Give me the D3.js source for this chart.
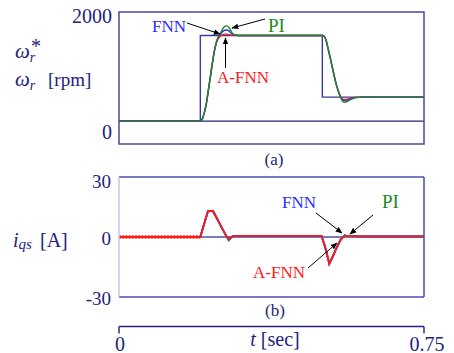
<!DOCTYPE html>
<html>
<head>
<meta charset="utf-8">
<script src="https://cdn.jsdelivr.net/npm/d3@7"></script>
<style>
  body { margin: 0; background: #fff; }
</style>
</head>
<body>
<div id="chart"></div>
<script>
// time samples (sec) for the speed plot
const tSpd = [0, 0.2, 0.205, 0.21, 0.215, 0.22, 0.225, 0.23, 0.235, 0.24, 0.245, 0.25, 0.255, 0.26, 0.265, 0.27, 0.275, 0.28, 0.29, 0.3,
              0.5, 0.505, 0.51, 0.515, 0.52, 0.525, 0.53, 0.535, 0.54, 0.545, 0.55, 0.555, 0.56, 0.57, 0.58, 0.6, 0.75];
const spdPI   = [0, 0, 40, 160, 330, 580, 830, 1080, 1300, 1460, 1560, 1620, 1690, 1735, 1745, 1720, 1660, 1600, 1575, 1570,
                 1570, 1550, 1460, 1300, 1140, 970, 800, 650, 530, 430, 365, 345, 355, 395, 425, 440, 440];
const spdFNN  = [0, 0, 40, 160, 330, 580, 830, 1080, 1300, 1460, 1550, 1600, 1640, 1665, 1670, 1655, 1620, 1590, 1572, 1570,
                 1570, 1550, 1460, 1300, 1140, 970, 800, 650, 535, 440, 385, 370, 378, 405, 430, 440, 440];
const spdAFNN = [0, 0, 40, 160, 330, 580, 830, 1080, 1300, 1440, 1520, 1560, 1585, 1595, 1595, 1585, 1578, 1572, 1570, 1570,
                 1570, 1550, 1460, 1300, 1140, 970, 800, 655, 545, 450, 405, 395, 400, 420, 435, 440, 440];
// speed command (step)
const tRef = [0, 0.2, 0.5, 0.75];
const spdRef = [0, 1570, 440, 440];

// time samples (sec) for the q-axis current
const tCur = [0, 0.2, 0.205, 0.21, 0.219, 0.231, 0.24, 0.25, 0.26, 0.265, 0.27, 0.275, 0.28, 0.3,
              0.498, 0.505, 0.51, 0.517, 0.525, 0.535, 0.545, 0.551, 0.555, 0.56, 0.6, 0.75];
const curPI   = [0, 0, 3.5, 7, 13, 13, 9.6, 5.7, 1.9, 0, -1.7, -0.6, 0.4, 0.6,
                 0.6, -3.8, -7.4, -13.2, -10, -5.5, -1.6, 0, 1.0, 0.6, 0.3, 0.3];
const curFNN  = [0, 0, 3.5, 7, 13, 13, 9.6, 5.7, 1.9, 0, -1.0, -0.3, 0.4, 0.6,
                 0.6, -3.8, -7.4, -13.4, -10, -5.5, -1.3, 0, 0.6, 0.4, 0.3, 0.3];
const curAFNN = [0, 0, 3.5, 7, 13, 13, 9.6, 5.7, 1.9, 0, -0.8, -0.2, 0.4, 0.6,
                 0.6, -3.8, -7.4, -13.5, -10, -5.5, -1.2, 0, 0.4, 0.4, 0.3, 0.3];

const spdTicks = [2000, 0];
const curTicks = [30, 0, -30];
const timeTicks = [0, 0.75];

const navy = "#22227a", frameCol = "#4a4a9c", lav = "#7a7ac0";
const cBlue = "#2b2bff", cGreen = "#1f8a1f", cRed = "#ff1a1a";

const width = 454, height = 353;
const svg = d3.select("#chart").append("svg")
  .attr("width", width).attr("height", height);

// every text goes through here so the serif face is set on the element itself
const addText = (parent, tx, ty, size, col) => parent.append("text")
  .attr("x", tx).attr("y", ty)
  .style("font-family", "'Liberation Serif'")
  .attr("font-size", size).attr("fill", col);

svg.append("defs").append("marker")
  .attr("id", "ah").attr("viewBox", "0 0 10 10").attr("refX", 9).attr("refY", 5)
  .attr("markerWidth", 7).attr("markerHeight", 7).attr("orient", "auto-start-reverse")
  .attr("markerUnits", "userSpaceOnUse")
  .append("path").attr("d", "M0,1 L10,5 L0,9 Z").attr("fill", "#000");

const x = d3.scaleLinear([0, 0.75], [119, 424]);
const ySpd = d3.scaleLinear([-420, 2000], [144, 12]);
const yCur = d3.scaleLinear([-30, 30], [297, 177]);

const zip = (t, v) => t.map((d, i) => [d, v[i]]);

// ---------- (a) speed ----------
const lineSpd = d3.line().x(d => x(d[0])).y(d => ySpd(d[1])).curve(d3.curveMonotoneX);

svg.append("line").attr("x1", x(0)).attr("x2", x(0.75))
  .attr("y1", ySpd(0)).attr("y2", ySpd(0))
  .attr("stroke", navy).attr("stroke-width", 1.3);

svg.append("path").datum(zip(tRef, spdRef))
  .attr("d", d3.line().x(d => x(d[0])).y(d => ySpd(d[1])).curve(d3.curveStepAfter))
  .attr("fill", "none").attr("stroke", "#3a3a98").attr("stroke-width", 1.4);

[[spdAFNN, cRed], [spdFNN, cBlue], [spdPI, cGreen]].forEach(([v, c]) => {
  svg.append("path").datum(zip(tSpd, v))
    .attr("d", lineSpd).attr("fill", "none").attr("stroke", c).attr("stroke-width", 1.4);
});

svg.append("rect").attr("x", x(0)).attr("y", ySpd(2000))
  .attr("width", x(0.75) - x(0)).attr("height", ySpd(-420) - ySpd(2000))
  .attr("fill", "none").attr("stroke", frameCol).attr("stroke-width", 1.5);

spdTicks.forEach(d => {
  addText(svg, 112, ySpd(d) + (d === 0 ? 18 : 11), 20, navy)
    .attr("text-anchor", "end").text(d);
});

// omega labels
const om1 = addText(svg, 15, 58, 21, navy);
om1.append("tspan").attr("font-style", "italic").text("ω");
om1.append("tspan").attr("font-style", "italic").attr("font-size", 14).attr("dy", 4).text("r");
addText(svg, 31, 53, 20, navy).text("*");
const om2 = addText(svg, 15, 86, 21, navy);
om2.append("tspan").attr("font-style", "italic").text("ω");
om2.append("tspan").attr("font-style", "italic").attr("font-size", 14).attr("dy", 4).text("r");
om2.append("tspan").attr("font-size", 19).attr("x", 48).attr("dy", -4).text("[rpm]");

addText(svg, 274, 165, 17, navy).attr("text-anchor", "middle").text("(a)");

// annotations (a)
const note = (tx, ty, txt, col, size) => addText(svg, tx, ty, size, col).text(txt);
const arrow = (x1, y1, x2, y2) => svg.append("line")
  .attr("x1", x1).attr("y1", y1).attr("x2", x2).attr("y2", y2)
  .attr("stroke", "#000").attr("stroke-width", 1).attr("marker-end", "url(#ah)");

note(152, 32, "FNN", cBlue, 17);
arrow(187, 23, 220, 34);
note(268, 32, "PI", cGreen, 19);
arrow(265, 19, 232, 28);
note(217, 83, "A-FNN", cRed, 17);
arrow(225.5, 68, 225.5, 38);

// ---------- (b) current ----------
const lineCur = d3.line().x(d => x(d[0])).y(d => yCur(d[1]));

svg.append("line").attr("x1", x(0)).attr("x2", x(0.75))
  .attr("y1", yCur(0)).attr("y2", yCur(0))
  .attr("stroke", lav).attr("stroke-width", 2);

[[curPI, cGreen], [curFNN, cBlue], [curAFNN, cRed]].forEach(([v, c]) => {
  svg.append("path").datum(zip(tCur, v))
    .attr("d", lineCur).attr("fill", "none").attr("stroke", c).attr("stroke-width", 1.8);
});
// ripple texture of the measured current before the step
svg.append("path").datum(zip(tCur.slice(0, 2), curAFNN.slice(0, 2)))
  .attr("d", lineCur).attr("fill", "none").attr("stroke", cRed)
  .attr("stroke-width", 3.5).attr("stroke-dasharray", "2,1.2").attr("opacity", 0.9);

// frame (b)
svg.append("line").attr("x1", x(0)).attr("x2", x(0.75)).attr("y1", yCur(30)).attr("y2", yCur(30))
  .attr("stroke", lav).attr("stroke-width", 2);
svg.append("line").attr("x1", x(0)).attr("x2", x(0.75)).attr("y1", yCur(-30)).attr("y2", yCur(-30))
  .attr("stroke", lav).attr("stroke-width", 2);
svg.append("line").attr("x1", x(0)).attr("x2", x(0)).attr("y1", yCur(30)).attr("y2", yCur(-30))
  .attr("stroke", "#c4c4e6").attr("stroke-width", 1.5);
svg.append("line").attr("x1", x(0.75)).attr("x2", x(0.75)).attr("y1", yCur(30)).attr("y2", yCur(-30))
  .attr("stroke", frameCol).attr("stroke-width", 1.5);

curTicks.forEach(d => {
  addText(svg, 111, yCur(d) + (d === 30 ? 11 : 8), 19, navy)
    .attr("text-anchor", "end").text(d);
});

const iq = addText(svg, 13, 247, 20, navy);
iq.append("tspan").attr("font-style", "italic").text("i");
iq.append("tspan").attr("font-style", "italic").attr("font-size", 15).attr("dy", 2).text("qs");
iq.append("tspan").attr("x", 40).attr("dy", -2).text("[A]");

addText(svg, 275, 316, 17, navy).attr("text-anchor", "middle").text("(b)");

note(282, 208, "FNN", cBlue, 17);
arrow(316, 213, 342, 233);
note(382, 208, "PI", cGreen, 19);
arrow(373, 215, 350, 234);
note(253, 278, "A-FNN", cRed, 17);
arrow(308, 268, 337, 243);

// ---------- time axis ----------
const tAxis = svg.append("g").attr("transform", "translate(0,326.5)");
tAxis.append("line").attr("x1", x(0)).attr("x2", x(0.75))
  .attr("stroke", navy).attr("stroke-width", 1.4);
tAxis.selectAll(".tt").data(timeTicks).enter().append("line")
  .attr("x1", d => x(d)).attr("x2", d => x(d)).attr("y1", 0).attr("y2", 7)
  .attr("stroke", navy).attr("stroke-width", 1.4);
timeTicks.forEach(d => {
  addText(tAxis, x(d) + (d === 0 ? 1 : 3), 24, 20, navy)
    .attr("text-anchor", "middle").text(d);
});
const tl = addText(svg, 275, 346, 20, navy).attr("text-anchor", "middle");
tl.append("tspan").attr("font-style", "italic").text("t");
tl.append("tspan").text(" [sec]");
</script>
</body>
</html>
